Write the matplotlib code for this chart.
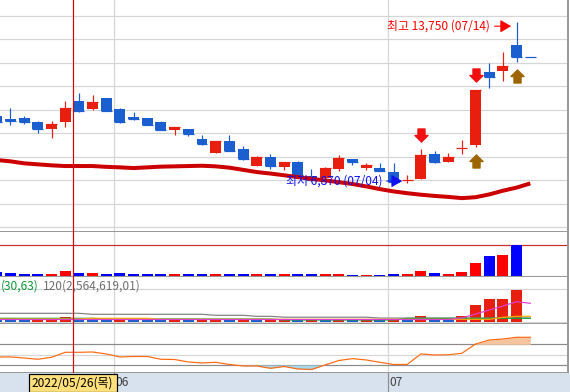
import datetime
import numpy as np
import matplotlib
matplotlib.use("Agg")
import matplotlib.pyplot as plt
from matplotlib.path import Path
from matplotlib.patches import Rectangle
from matplotlib.transforms import ScaledTranslation

plt.rcParams['font.family'] = ['Noto Sans CJK KR', 'DejaVu Sans']

# ---- data ----
year = 2022
dates = ['05/19', '05/20', '05/23', '05/24', '05/25', '05/26', '05/27', '05/30', '05/31',
         '06/02', '06/03', '06/07', '06/08', '06/09', '06/10', '06/13', '06/14', '06/15',
         '06/16', '06/17', '06/20', '06/21', '06/22', '06/23', '06/24', '06/27', '06/28',
         '06/29', '06/30', '07/01', '07/04', '07/05', '07/06', '07/07', '07/08', '07/11',
         '07/12', '07/13', '07/14', '07/15']
opens = [9740, 9630, 9650, 9480, 9200, 9480, 10400, 10050, 10500, 10050,
         9710, 9650, 9480, 9140, 9190, 8760, 8180, 8680, 8330, 7620,
         7990, 7570, 7780, 7180, 7100, 7480, 7910, 7510, 7540, 7350,
         7000, 7060, 8120, 7780, 8360, 8500, 11600, 11650, 12750, 12250]
highs = [9760, 10100, 9740, 9510, 9510, 10400, 10700, 10650, 10500, 10100,
         9910, 9650, 9530, 9270, 9190, 8930, 8680, 8930, 8460, 8040,
         8120, 7780, 7820, 7480, 7580, 8080, 7910, 7750, 7750, 7720,
         7230, 8330, 8250, 8160, 8720, 10850, 12000, 12450, 13750, 12250]
lows = [9450, 9370, 9400, 9030, 8820, 9280, 9920, 10000, 9950, 9440,
        9570, 9360, 9140, 8930, 8890, 8500, 8180, 8240, 7870, 7620,
        7480, 7440, 7230, 6960, 7100, 7400, 7650, 7440, 7410, 6940,
        6870, 7060, 7740, 7780, 8120, 8430, 10950, 11250, 12050, 12250]
closes = [9480, 9540, 9490, 9200, 9400, 10100, 9950, 10350, 9950, 9480,
          9630, 9360, 9140, 9270, 8970, 8550, 8680, 8240, 7910, 7990,
          7620, 7780, 7230, 7010, 7510, 7940, 7790, 7650, 7410, 6940,
          7010, 8080, 7780, 7990, 8370, 10850, 11400, 11850, 12250, 12250]
ma120 = [7864, 7808, 7723, 7680, 7638, 7608, 7608, 7608, 7574, 7552,
         7522, 7552, 7582, 7595, 7608, 7621, 7595, 7539, 7446, 7352,
         7288, 7215, 7138, 7061, 6997, 6920, 6843, 6741, 6626, 6527,
         6451, 6387, 6335, 6293, 6241, 6280, 6399, 6557, 6690, 6869]
volume = [370, 270, 170, 170, 170, 470, 270, 270, 170, 270,
          170, 170, 170, 170, 170, 170, 170, 170, 170, 170,
          170, 170, 170, 170, 170, 170, 70, 70, 70, 170,
          170, 470, 270, 170, 370, 1270, 1970, 2070, 3070, 0]
flow = [1820, 2610, 1820, 1820, 1820, 3390, 1820, 1820, 1820, 1820,
        1820, 1820, 1820, 1820, 1820, 1820, 1820, 1820, 1820, 1820,
        1820, 1820, 1820, 1820, 1820, 1820, 1820, 1820, 1820, 1820,
        1820, 3820, 2420, 2420, 3820, 10480, 14120, 14120, 19570, 0]
flow_up = [0, 0, 0, 1, 1, 1, 0, 0, 0, 1,
           0, 0, 0, 1, 0, 1, 1, 0, 1, 0,
           1, 1, 0, 1, 0, 1, 0, 1, 0, 1,
           0, 1, 0, 0, 1, 1, 1, 1, 1, 1]
flow_ma_gray = [5455, 5455, 5455, 5455, 5455, 5455, 5455, 4848, 4848, 4848,
                4848, 4848, 4848, 4848, 4848, 4848, 4242, 4242, 4242, 3636,
                3636, 3091, 3091, 3091, 3091, 3091, 3091, 3091, 2565, 2565,
                2565, 2565, 2565, 2565, 2565, 2565, 2565, 2565, 2565, 2565]
flow_ma_orange = [2000, 2000, 2000, 2000, 2000, 2000, 2000, 2424, 2424, 2424,
                  2424, 2424, 1818, 1818, 1818, 1818, 1818, 1818, 1818, 1818,
                  1818, 1818, 1818, 1818, 1818, 1818, 1818, 1818, 1818, 1818,
                  1818, 1818, 1818, 1818, 1818, 1818, 1818, 3030, 3636, 3636]
flow_ma_green = [2424, 2424, 2424, 2424, 2424, 2424, 2424, 2424, 2000, 2000,
                 2000, 2000, 2000, 2000, 2000, 2000, 2000, 2000, 2000, 2000,
                 2000, 1394, 1394, 1394, 1394, 1394, 1394, 1394, 1394, 1394,
                 2424, 2424, 2424, 2424, 2424, 2424, 2424, 2424, 2424, 2424]
flow_ma_pink = [1700, 1700, 1700, 1700, 1700, 1700, 1700, 1700, 1700, 1700,
                1700, 1700, 1700, 1700, 1700, 1700, 1700, 1700, 1700, 1700,
                1700, 1700, 1700, 1700, 1700, 1700, 1700, 1700, 1700, 1700,
                1700, 1700, 1700, 1700, 2610, 5030, 7450, 9880, 12490, 11520]
osc = [45.5, 45.5, 43.5, 41.0, 44.9, 54.5, 54.5, 55.1, 51.3, 45.5,
       46.4, 46.4, 41.0, 40.6, 35.8, 33.9, 35.2, 31.0, 28.1, 28.1,
       23.6, 27.1, 22.3, 21.3, 30.0, 38.7, 42.2, 39.7, 35.2, 31.0,
       31.0, 51.3, 49.3, 49.7, 52.6, 70.6, 78.3, 80.2, 83.5, 83.5]
sell_dates = ['07/05', '07/11']
buy_dates = ['07/11', '07/14']
flow_label_a = '(30,63)'
flow_label_b = '120(2,564,619,01)'
price_grid = range(5000, 15000, 1000)
cursor_x = 5.59

# ---- layout ----
W, H = 570, 392
px = 72 / 100  # points per pixel
fig = plt.figure(figsize=(W / 100, H / 100), dpi=100)
x = np.arange(len(dates))
x_left, x_right = 0.2325, 41.755

red_c, blue_c = '#e81e0e', '#1a5ed0'
grid_c, frame_c = '#d6d6d6', '#9a9a9a'

month_starts = [j for j in range(1, len(dates)) if dates[j][:2] != dates[j - 1][:2]]
month_lines = [j - 0.42 for j in month_starts]


def panel(top, bottom, right=568):
    ax = fig.add_axes([0, 1 - bottom / H, right / W, (bottom - top) / H])
    ax.set_xlim(x_left, x_right)
    ax.set_xticks([])
    ax.set_yticks([])
    ax.spines['top'].set_visible(False)
    ax.spines['left'].set_visible(False)
    for side in ['bottom', 'right']:
        ax.spines[side].set_color(frame_c)
        ax.spines[side].set_linewidth(2 * px)
    for m in month_lines:
        ax.axvline(m, color=grid_c, lw=1.2 * px, zorder=0)
    ax.axvline(cursor_x, color='#dd0000', lw=1.2 * px, zorder=6)
    return ax


def shifted(ax, dx, dy):
    # data point moved by dx, dy pixels
    return ax.transData + ScaledTranslation(dx / 100, dy / 100, fig.dpi_scale_trans)


o, h, l, c = map(np.array, (opens, highs, lows, closes))
up = c > o
cc = np.where(up, red_c, blue_c)

# main price panel
ax1 = panel(0, 232)
ax1.set_ylim(4798, 14682)
for p in price_grid:
    ax1.axhline(p, color=grid_c, lw=1.2 * px, zorder=0)
ax1.vlines(x, l, h, colors=cc, lw=1.2 * px, zorder=2)
ax1.bar(x, np.abs(c - o), bottom=np.minimum(o, c), width=0.8, color=cc, lw=0, zorder=2)
ax1.hlines(c, x - 0.4, x + 0.4, colors=cc, lw=1.2 * px, zorder=2)
ax1.plot(x, ma120, color='#cc0000', lw=4 * px, solid_capstyle='butt', zorder=3)

down_arrow = Path([(-0.27, 0.5), (0.27, 0.5), (0.27, 0.0), (0.5, 0.0), (0.0, -0.5),
                   (-0.5, 0.0), (-0.27, 0.0), (-0.27, 0.5)],
                  [Path.MOVETO] + [Path.LINETO] * 6 + [Path.CLOSEPOLY])
up_arrow = Path(down_arrow.vertices * [1, -1], down_arrow.codes)
for d in sell_dates:
    j = dates.index(d)
    ax1.plot(x[j], h[j], marker=down_arrow, markersize=13 * px, color='#f01010', lw=0,
             transform=shifted(ax1, 0, 14.5), zorder=4)
for d in buy_dates:
    j = dates.index(d)
    ax1.plot(x[j], l[j], marker=up_arrow, markersize=13 * px, color='#9c6500', lw=0,
             transform=shifted(ax1, 0, -14.5), zorder=4)

hi = int(np.argmax(h))
lo = int(np.argmin(l))
ax1.text(x[hi], h[hi], f'최고 {h[hi]:,} ({dates[hi]})', transform=shifted(ax1, -26.5, -4.3),
         ha='right', va='center', color='#ff0000', fontsize=8.6, zorder=5)
ax1.annotate('', xy=(x[hi], h[hi]), xycoords=shifted(ax1, -5.5, -4.3),
             xytext=(x[hi], h[hi]), textcoords=shifted(ax1, -22, -4.3),
             arrowprops=dict(arrowstyle='-|>,head_length=0.55,head_width=0.32', color='#ff0000',
                             lw=1.1 * px, shrinkA=0, shrinkB=0, mutation_scale=12), zorder=5)
ax1.text(x[lo], l[lo], f'최저 {l[lo]:,} ({dates[lo]})', transform=shifted(ax1, -25, 2.6),
         ha='right', va='center', color='#1010f0', fontsize=8.6, zorder=5)
ax1.annotate('', xy=(x[lo], l[lo]), xycoords=shifted(ax1, -5, 2.3),
             xytext=(x[lo], l[lo]), textcoords=shifted(ax1, -20.5, 2.3),
             arrowprops=dict(arrowstyle='-|>,head_length=0.55,head_width=0.32', color='#1010f0',
                             lw=1.1 * px, shrinkA=0, shrinkB=0, mutation_scale=12), zorder=5)

# volume panel
ax2 = panel(232, 277)
ax2.set_ylim(-130, 4370)
vol_c = np.where(up, '#ff0000', '#0000ff')
ax2.axhline(0, color=grid_c, lw=1.2 * px, zorder=0)
ax2.bar(x, volume, width=0.8, color=vol_c, lw=0, zorder=2)
ax2.axhline(max(volume), color='#cc2a2a', lw=1.2 * px, zorder=1)

# second volume-type panel with moving averages
ax3 = panel(277, 324)
ax3.set_ylim(-1030, 27450)
ax3.axhline(0, color=grid_c, lw=1.2 * px, zorder=0)
ax3.axhline(20000, color=grid_c, lw=1.2 * px, zorder=0)
ax3.bar(x, flow, width=0.8, color=np.where(np.array(flow_up) == 1, red_c, blue_c), lw=0, zorder=2)
ax3.plot(x, flow_ma_gray, color='#808080', lw=1.2 * px, zorder=3)
ax3.plot(x, flow_ma_green, color='#12a040', lw=1.2 * px, zorder=3)
ax3.plot(x, flow_ma_orange, color='#ffaa00', lw=1.2 * px, zorder=3)
ax3.plot(x, flow_ma_pink, color='#e040d0', lw=1.2 * px, zorder=3)
fig.text(0.5 / W, 1 - 286 / H, flow_label_a, color='#10963c', fontsize=8.6, va='center')
fig.text(43 / W, 1 - 286 / H, flow_label_b, color='#707070', fontsize=8.6, va='center')

# oscillator panel
ax4 = panel(324, 373)
ax4.set_ylim(14.5, 109.2)
ax4.axhline(70, color='#8a8a8a', lw=1.2 * px, zorder=1)
ax4.axhline(50, color=grid_c, lw=1.2 * px, zorder=0)
ax4.axhline(30, color='#8a8a8a', lw=1.2 * px, zorder=1)
osc_a = np.array(osc)
ax4.fill_between(x, osc_a, 70, where=osc_a > 70, interpolate=True, color='#f7c4a0', lw=0, zorder=1)
ax4.fill_between(x, osc_a, 30, where=osc_a < 30, interpolate=True, color='#a6d8ea', lw=0, zorder=1)
ax4.plot(x, osc_a, color='#ff6a10', lw=1.2 * px, zorder=3)

# date band
axb = fig.add_axes([0, 0, 1, 19 / H])
axb.set_xlim(x_left, x_left + (x_right - x_left) * W / 568)
axb.set_ylim(0, 1)
axb.set_facecolor('#d8e2ee')
axb.set_xticks([])
axb.set_yticks([])
for s in axb.spines.values():
    s.set_visible(False)
for j, m in zip(month_starts, month_lines):
    axb.axvline(m, color='#8c8c8c', lw=1.2 * px)
    axb.text(m, 0.5, dates[j][:2], transform=shifted(axb, 1.5, 0),
             ha='left', va='center', color='#404040', fontsize=8.6)

# cursor tooltip
cj = int(cursor_x)
mm, dd = map(int, dates[cj].split('/'))
weekday = '월화수목금토일'[datetime.date(year, mm, dd).weekday()]
fig.add_artist(Rectangle((29 / W, 0), 88 / W, 18 / H, transform=fig.transFigure,
                         facecolor='#ffe07a', edgecolor='black', lw=1.2 * px))
fig.text(32 / W, 1 - 383 / H, f'{year}/{dates[cj]}({weekday})', color='black',
         fontsize=8.6, va='center')

fig.savefig('out.png', dpi=100)
